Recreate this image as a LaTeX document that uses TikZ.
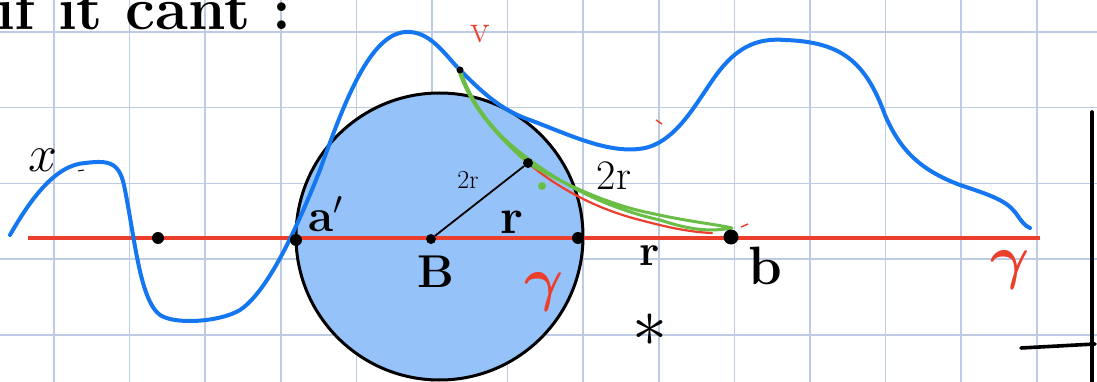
\documentclass[tikz,border=0pt]{standalone}
\usepackage{fix-cm}
\usepackage{amsmath}
\usepackage{fontspec}
\definecolor{gridc}{RGB}{190,203,228}
\definecolor{penred}{RGB}{236,62,44}
\definecolor{penblue}{RGB}{20,118,240}
\definecolor{fillblue}{RGB}{150,194,250}
\definecolor{pengreen}{RGB}{106,190,70}
\tikzset{
  ink/.style={line width=2.2pt, line cap=round, line join=round},
  dot/.style={circle, fill=black, inner sep=0pt, minimum size=12pt},
  lbl/.style={inner sep=0pt, font=\fontsize{30}{30}\selectfont},
  redlbl/.style={lbl, text=penred},
}
\begin{document}
\begin{tikzpicture}[x=1pt,y=-1pt]
\useasboundingbox (0,0) rectangle (1097,382);
\clip (0,0) rectangle (1097,382);
\fill[white] (0,0) rectangle (1097,382);
% grid
\foreach \gx in {0,...,13} \draw[gridc, line width=1.6pt] ({54+75.6*\gx},0) -- ({54+75.6*\gx},382);
\foreach \gy in {0,...,4} \draw[gridc, line width=1.6pt] (0,{32+75.7*\gy}) -- (1097,{32+75.7*\gy});
% title
\node[lbl, anchor=base west, font=\bfseries\fontsize{60}{60}\selectfont] (title) at (-4,30) {if it cant :};
% circle
\node[circle, draw=black, fill=fillblue, line width=3pt, minimum size=287pt, inner sep=0pt] (disk) at (439.5,236.5) {};
% red line
\draw[penred, line width=3.4pt] (28,238) -- (1040,238);
% blue curve
\draw[penblue, ink, line width=4pt]
  (10,235) .. controls (30,200) and (55,165) .. (85,163)
  .. controls (110,160) and (120,162) .. (125,190)
  .. controls (135,240) and (140,300) .. (160,315)
  .. controls (175,325) and (220,322) .. (240,310)
  .. controls (270,290) and (300,220) .. (320,170)
  .. controls (345,100) and (370,35) .. (405,32)
  .. controls (430,30) and (445,55) .. (460,70)
  .. controls (480,90) and (500,110) .. (530,120)
  .. controls (570,135) and (610,155) .. (645,148)
  .. controls (680,140) and (700,95) .. (720,70)
  .. controls (740,45) and (760,38) .. (785,40)
  .. controls (840,42) and (865,60) .. (885,115)
  .. controls (900,150) and (920,170) .. (960,185)
  .. controls (990,195) and (1005,200) .. (1015,212)
  .. controls (1022,222) and (1025,226) .. (1030,228);
% red path
\draw[penred, line width=2.2pt, line cap=round]
  (460,68) .. controls (470,100) and (485,125) .. (528,163)
  .. controls (560,190) and (600,210) .. (640,220)
  .. controls (670,228) and (690,232) .. (712,233);
% green path
\draw[pengreen, line width=3pt, line cap=round, line join=round]
  (458,68) .. controls (468,100) and (488,128) .. (528,163)
  .. controls (565,185) and (610,205) .. (650,213)
  .. controls (690,222) and (715,224) .. (732,228)
  .. controls (710,232) and (690,230) .. (660,220)
  .. controls (615,210) and (570,190) .. (530,160)
  .. controls (495,135) and (472,105) .. (460,70);
\fill[pengreen] (542,186) circle (4pt);
% small red ticks
\draw[penred, line width=1.4pt] (741,227) -- (748,224);
\draw[penred, line width=1.4pt] (656,120) -- (662,124);
% radius segment
\node[dot, minimum size=10pt] (B) at (431,239) {};
\node[dot, minimum size=10pt] (P) at (528,163) {};
\draw[black, line width=1.8pt] (B) -- (P);
% other dots
\node[dot] (d1) at (158,238) {};
\node[dot] (ap) at (296,240) {};
\node[dot] (m) at (578,238) {};
\node[dot, minimum size=15pt] (b) at (731,237) {};
\node[dot, minimum size=7pt] (v) at (460,70) {};
% labels
\node[lbl, font=\fontsize{52}{52}\selectfont] (xl) at (43,160) {$x$};
\draw[black, line width=1pt] (78,171) -- (84,170);
\node[lbl, font=\bfseries\fontsize{46}{46}\selectfont] (apl) at (326,214) {a$'$};
\node[lbl, font=\fontsize{26}{26}\selectfont] (tr1) at (468,180) {2r};
\node[lbl, font=\bfseries\fontsize{50}{50}\selectfont] (rl1) at (512,222) {r};
\node[lbl, font=\bfseries\fontsize{46}{46}\selectfont] (Bl) at (436,272) {B};
\node[redlbl, font=\fontsize{60}{60}\selectfont] (g1) at (544,292) {$\boldsymbol{\gamma}$};
\node[lbl, font=\fontsize{42}{42}\selectfont] (tr2) at (614,176) {2r};
\node[lbl, font=\bfseries\fontsize{44}{44}\selectfont] (rl2) at (650,256) {r};
\node[lbl, font=\bfseries\fontsize{54}{54}\selectfont] (bl) at (765,266) {b};
\node[lbl, font=\fontsize{70}{70}\selectfont] (star) at (650,330) {$*$};
\node[redlbl, font=\fontsize{60}{60}\selectfont] (g2) at (1010,270) {$\boldsymbol{\gamma}$};
\node[redlbl, font=\fontsize{40}{40}\selectfont] (vl) at (480,34) {v};
% right bracket
\draw[black, line width=3.6pt, line cap=round] (1092,112) -- (1092,382);
\draw[black, line width=3.6pt, line cap=round] (1021,348) -- (1095,344);
\end{tikzpicture}
\end{document}
